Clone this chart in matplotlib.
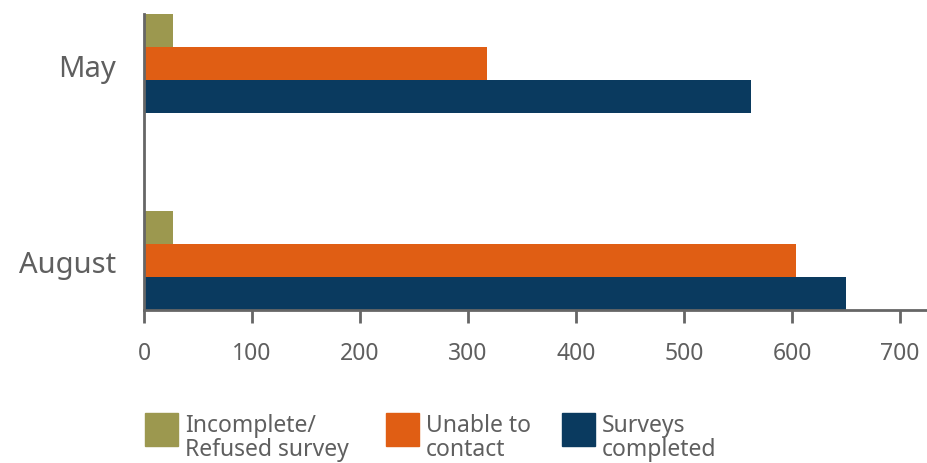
import matplotlib
matplotlib.use("Agg")
import matplotlib.pyplot as plt
from matplotlib.patches import Rectangle
import numpy as np

months = ["August", "May"]
incomplete = [27, 27]
unable = [604, 318]
completed = [650, 562]
series_names = ["Incomplete/\nRefused survey", "Unable to\ncontact", "Surveys\ncompleted"]
colors = ["#9C984F", "#E05E14", "#0A3A5F"]

plt.rcParams["font.family"] = ["Noto Sans", "DejaVu Sans"]
gray = "#5F5F5F"
W, H = 927, 463

fig = plt.figure(figsize=(9.27, 4.63), dpi=100)
ax = fig.add_axes([144 / W, 1 - 310 / H, 1 - 144 / W, (310 - 14) / H])

h = 0.168
y = np.array([0, 1])
bars = []
for i, vals in enumerate([incomplete, unable, completed]):
    b = ax.barh(y + (1 - i) * h, vals, height=h, color=colors[i], label=series_names[i])
    bars.append(b)

ax.set_xlim(0, 725)
ax.set_ylim(-1.5 * h, 1 + 1.5 * h)
ax.set_xticks(range(0, 800, 100))
ax.set_yticks(y - 0.01)
ax.set_yticklabels(months)

for s in ["top", "right"]:
    ax.spines[s].set_visible(False)
for s in ["left", "bottom"]:
    ax.spines[s].set_color("#666666")
    ax.spines[s].set_linewidth(2)

ax.tick_params(axis="x", colors="#666666", length=9, width=2, pad=14, labelsize=16.5, labelcolor=gray)
ax.tick_params(axis="y", length=0, pad=20, labelsize=21, labelcolor=gray)

# legend drawn by hand: square + two-line label
leg_x = [145, 386, 562]
for i, name in enumerate(series_names):
    x0 = leg_x[i]
    fig.add_artist(Rectangle((x0 / W, 1 - 446 / H), 33 / W, 33 / H,
                             transform=fig.transFigure, color=colors[i]))
    for j, line in enumerate(name.split("\n")):
        fig.text((x0 + 40) / W, 1 - (432 + 24 * j) / H, line, fontsize=16.5, color=gray,
                 ha="left", va="baseline")

fig.savefig("out.png", dpi=100)
